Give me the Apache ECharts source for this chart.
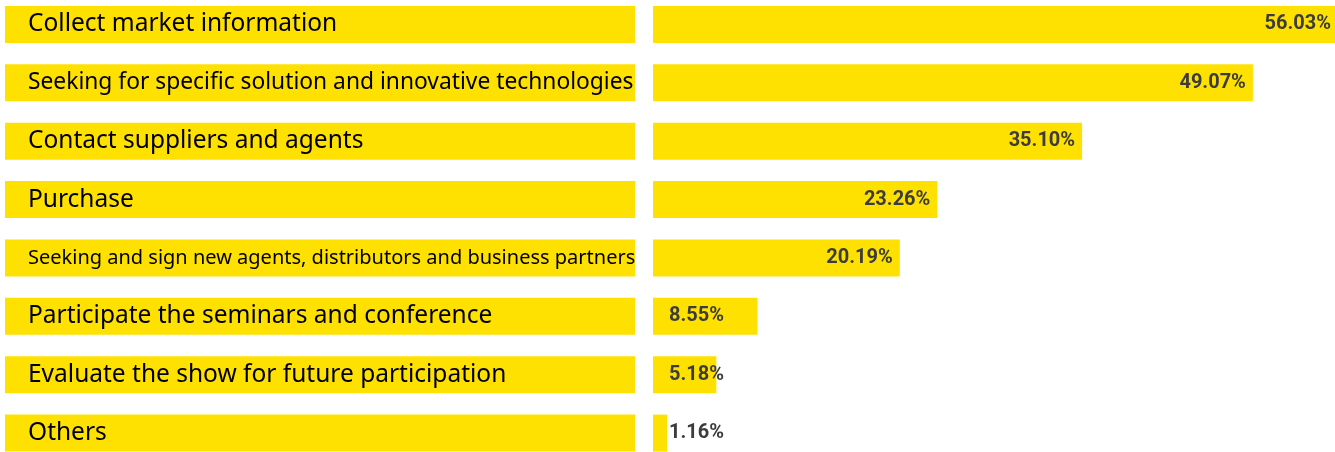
<!DOCTYPE html>
<html>
<head>
<meta charset="utf-8">
<script src="https://cdn.jsdelivr.net/npm/echarts@6/dist/echarts.min.js"></script>
<style>
  html, body { margin: 0; padding: 0; background: #fff; }
  #chart { width: 1335px; height: 452px; }
</style>
</head>
<body>
<div id="chart"></div>
<script>
  // survey: purpose of visiting the show
  const categories = [
    'Collect market information',
    'Seeking for specific solution and innovative technologies',
    'Contact suppliers and agents',
    'Purchase',
    'Seeking and sign new agents, distributors and business partners',
    'Participate the seminars and conference',
    'Evaluate the show for future participation',
    'Others'
  ];
  const shares = [56.03, 49.07, 35.10, 23.26, 20.19, 8.55, 5.18, 1.16];

  const yellow = '#ffe100';
  const smallBars = 10; // below this the % label sits from the bar start

  const chart = echarts.init(document.getElementById('chart'));

  // long labels get squeezed to fit the box
  function labelStyle(name) {
    if (name.length > 60) return 'c';
    if (name.length > 50) return 'b';
    return 'a';
  }

  const box = {
    backgroundColor: yellow,
    width: 607,
    height: 37,
    lineHeight: 37,
    padding: [0, 0, 0, 23],
    color: '#000',
    fontFamily: 'Noto Sans',
    align: 'left'
  };

  chart.setOption({
    animation: false,
    grid: {
      left: 653, width: 685, top: -4.7, height: 467,
      containLabel: false,
      outerBoundsMode: 'none'
    },
    xAxis: {
      type: 'value',
      min: 0,
      max: 56.03,
      show: false
    },
    yAxis: {
      type: 'category',
      inverse: true,
      data: categories,
      axisLine: { show: false },
      axisTick: { show: false },
      splitLine: { show: false },
      axisLabel: {
        align: 'left',
        margin: 648,
        formatter: v => '{' + labelStyle(v) + '|' + v + '}',
        rich: {
          a: Object.assign({}, box, { fontSize: 24.5 }),
          b: Object.assign({}, box, { fontSize: 22.8 }),
          c: Object.assign({}, box, { fontSize: 20 })
        }
      }
    },
    series: [{
      type: 'bar',
      barWidth: 37,
      itemStyle: { color: yellow },
      data: shares.map(v => ({
        value: v,
        label: v < smallBars
          ? { position: 'insideLeft', distance: 16 }
          : { position: 'insideRight', distance: 7 }
      })),
      label: {
        show: true,
        color: '#3c3c3c',
        fontFamily: 'Roboto',
        fontWeight: 'bold',
        fontSize: 20,
        formatter: p => p.value.toFixed(2) + '%'
      }
    }]
  });
</script>
</body>
</html>
